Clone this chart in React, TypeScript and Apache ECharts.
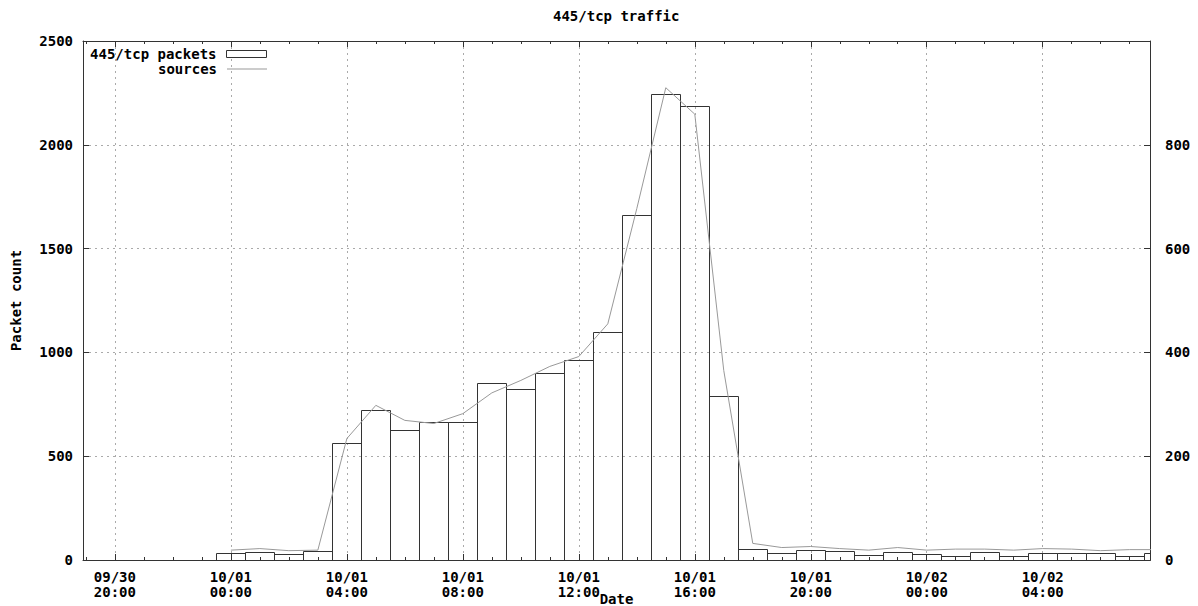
import React, { useEffect, useRef } from "react";
import * as echarts from "echarts";

// Hours counted from 09/30 00:00 (24 = 10/01 00:00, 48 = 10/02 00:00)
const hours = [24, 25, 26, 27, 28, 29, 30, 31, 32, 33, 34, 35, 36, 37, 38, 39, 40, 41, 42, 43, 44, 45, 46, 47, 48, 49, 50, 51, 52, 53, 54, 55, 56];
const packets = [32, 37, 27, 43, 562, 724, 625, 663, 666, 851, 822, 900, 965, 1100, 1662, 2246, 2188, 788, 53, 35, 47, 42, 24, 37, 30, 21, 37, 21, 34, 32, 32, 21, 32];
const sources = [19, 22, 18, 19, 234, 298, 269, 263, 282, 322, 346, 373, 392, 455, 677, 910, 859, 365, 32, 24, 26, 22, 19, 24, 19, 21, 21, 19, 22, 21, 18, 20, 20];

const xTickHours = [20, 24, 28, 32, 36, 40, 44, 48, 52];
const xTickLabels = ["09/30\n20:00", "10/01\n00:00", "10/01\n04:00", "10/01\n08:00", "10/01\n12:00", "10/01\n16:00", "10/01\n20:00", "10/02\n00:00", "10/02\n04:00"];
const X_MIN = 18.9;
const X_MAX = 55.7;

const FONT = "DejaVu Sans Mono";
const AXIS_COLOR = "#333";

export default function App() {
  const ref = useRef<HTMLDivElement>(null);
  useEffect(() => {
    if (!ref.current) return;
    const chart = echarts.init(ref.current, null, { renderer: "svg" });
    const hourTicks: number[] = [];
    for (let h = Math.ceil(X_MIN); h <= X_MAX; h++) hourTicks.push(h);
    const textBase = { fontFamily: FONT, fontWeight: "bold" as const, fontSize: 14, color: "#000" };
    const grid = { type: [2, 4], color: "#aaa", width: 1 };
    const baseX = {
      type: "value" as const,
      min: X_MIN,
      max: X_MAX,
      splitLine: { show: false },
      axisLabel: { show: false },
    };
    const option: any = {
      animation: false,
      backgroundColor: "#fff",
      title: {
        text: "445/tcp traffic",
        left: 553,
        top: 9,
        padding: 0,
        textStyle: { ...textBase },
      },
      legend: [
        {
          data: [{ name: "445/tcp packets", icon: "rect", itemStyle: { color: "#fff", borderColor: AXIS_COLOR, borderWidth: 1 } }],
          right: 931,
          top: 47,
          align: "right",
          itemWidth: 40,
          itemHeight: 7,
          padding: 0,
          selectedMode: false,
          textStyle: { ...textBase, padding: [0, 5, 0, 0] },
        },
        {
          data: [{ name: "sources", icon: "rect", itemStyle: { color: "#999", borderWidth: 0 } }],
          right: 931,
          top: 62,
          align: "right",
          itemWidth: 40,
          itemHeight: 1,
          padding: 0,
          selectedMode: false,
          textStyle: { ...textBase, padding: [0, 5, 0, 0] },
        },
      ],
      grid: { left: 83, right: 48, top: 41, bottom: 46, containLabel: false, outerBoundsMode: "none" },
      xAxis: [
        {
          type: "value",
          min: X_MIN,
          max: X_MAX,
          position: "bottom",
          axisLine: { show: true, onZero: false, lineStyle: { color: AXIS_COLOR } },
          axisTick: { show: true, inside: true, length: 6, customValues: xTickHours, lineStyle: { color: AXIS_COLOR } },
          axisLabel: {
            customValues: xTickHours,
            ...textBase,
            lineHeight: 15,
            margin: 9,
            formatter: (v: number) => {
              const i = xTickHours.indexOf(Math.round(v));
              return i >= 0 ? xTickLabels[i] : "";
            },
          },
          splitLine: { show: true, lineStyle: grid },
          name: "Date",
          nameLocation: "middle",
          nameGap: 32,
          nameMoveOverlap: false,
          nameTextStyle: { ...textBase },
        },
        {
          ...baseX,
          position: "bottom",
          axisLine: { show: false, onZero: false },
          axisTick: { show: true, inside: true, length: 3, customValues: hourTicks, lineStyle: { color: AXIS_COLOR } },
        },
        {
          ...baseX,
          position: "top",
          axisLine: { show: true, onZero: false, lineStyle: { color: AXIS_COLOR } },
          axisTick: { show: true, inside: true, length: 6, customValues: xTickHours, lineStyle: { color: AXIS_COLOR } },
        },
        {
          ...baseX,
          position: "top",
          axisLine: { show: false, onZero: false },
          axisTick: { show: true, inside: true, length: 3, customValues: hourTicks, lineStyle: { color: AXIS_COLOR } },
        },
      ],
      yAxis: [
        {
          type: "value",
          min: 0,
          max: 2500,
          interval: 500,
          position: "left",
          axisLine: { show: true, onZero: false, lineStyle: { color: AXIS_COLOR } },
          axisTick: { show: true, inside: true, length: 6, lineStyle: { color: AXIS_COLOR } },
          axisLabel: { ...textBase, margin: 10, formatter: (v: number) => String(v) },
          splitLine: { show: true, lineStyle: grid },
          name: "Packet count",
          nameLocation: "middle",
          nameGap: 60,
          nameRotate: 90,
          nameMoveOverlap: false,
          nameTextStyle: { ...textBase },
        },
        {
          type: "value",
          min: 0,
          max: 1000,
          interval: 200,
          position: "right",
          axisLine: { show: true, onZero: false, lineStyle: { color: AXIS_COLOR } },
          axisTick: { show: true, inside: true, length: 6, lineStyle: { color: AXIS_COLOR } },
          axisLabel: { ...textBase, margin: 15, formatter: (v: number) => (v >= 1000 ? "" : String(v)) },
          splitLine: { show: false },
        },
      ],
      series: [
        {
          name: "445/tcp packets",
          type: "custom",
          xAxisIndex: 0,
          yAxisIndex: 0,
          data: hours.map((h, i) => [h, packets[i]]),
          itemStyle: { color: "#fff", borderColor: AXIS_COLOR },
          renderItem: (params: any, api: any) => {
            const x = api.value(0);
            const v = api.value(1);
            const cs = params.coordSys;
            const a = api.coord([x - 0.5, v]);
            const b = api.coord([x + 0.5, 0]);
            const x0 = Math.max(cs.x, Math.round(a[0]));
            const x1 = Math.min(cs.x + cs.width, Math.round(b[0]));
            const y0 = Math.round(a[1]);
            const y1 = Math.round(b[1]);
            if (x1 <= x0) return null;
            return {
              type: "rect",
              shape: { x: x0 + 0.5, y: y0 + 0.5, width: x1 - x0, height: y1 - y0 },
              style: { fill: "none", stroke: AXIS_COLOR, lineWidth: 1 },
              z2: 5,
            };
          },
        },
        {
          name: "sources",
          type: "line",
          xAxisIndex: 0,
          yAxisIndex: 1,
          data: hours.map((h, i) => [h, sources[i]]),
          symbol: "none",
          clip: true,
          lineStyle: { color: "#999", width: 1 },
          itemStyle: { color: "#999" },
          z: 3,
        },
      ],
    };
    chart.setOption(option);
    return () => chart.dispose();
  }, []);
  return (
    <div
      ref={ref}
      style={{ position: "fixed", left: 0, top: 0, width: 1198, height: 606, background: "#fff" }}
    />
  );
}
